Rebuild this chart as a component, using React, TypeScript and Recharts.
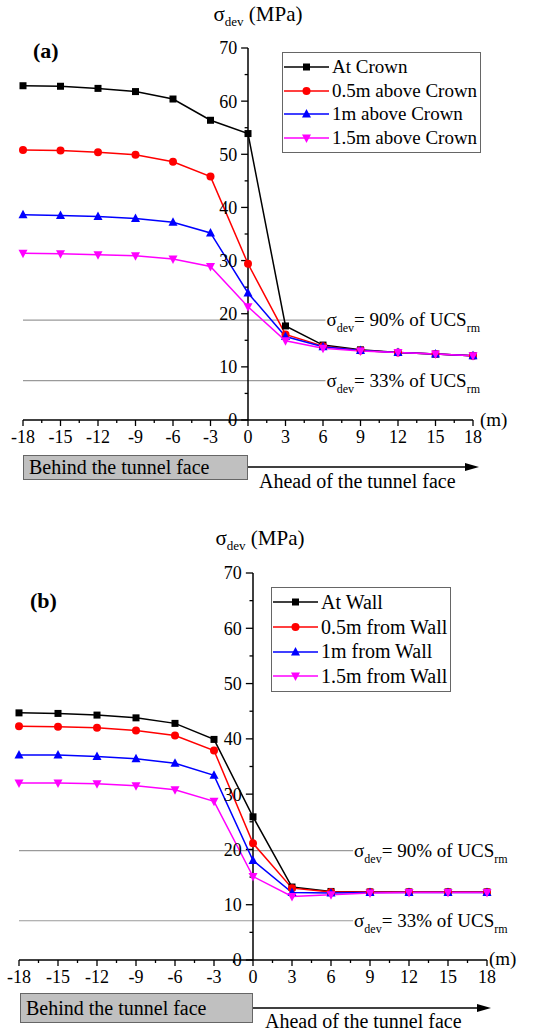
import { LineChart, Line, XAxis, YAxis, ReferenceLine, Legend } from "recharts";

const FONT = '"Liberation Serif", "Times New Roman", serif';

// distance from the tunnel face (m)
const positions = [-18, -15, -12, -9, -6, -3, 0, 3, 6, 9, 12, 15, 18];
const xTicks = [-18, -16.5, -15, -13.5, -12, -10.5, -9, -7.5, -6, -4.5, -3, -1.5, 0, 1.5, 3, 4.5, 6, 7.5, 9, 10.5, 12, 13.5, 15, 16.5, 18];
const yTicks = [0, 5, 10, 15, 20, 25, 30, 35, 40, 45, 50, 55, 60, 65, 70];

// (a) crown
const crownNames = ["At Crown", "0.5m above Crown", "1m above Crown", "1.5m above Crown"];
const atCrown = [62.9, 62.8, 62.4, 61.8, 60.4, 56.4, 53.9, 17.7, 14.1, 13.2, 12.7, 12.4, 12.1];
const crownHalf = [50.8, 50.7, 50.4, 49.9, 48.6, 45.8, 29.4, 16.1, 13.9, 13.1, 12.7, 12.4, 12.1];
const crownOne = [38.6, 38.5, 38.3, 37.9, 37.2, 35.2, 23.9, 15.7, 13.8, 13.1, 12.7, 12.4, 12.1];
const crownOneHalf = [31.4, 31.3, 31.1, 30.9, 30.3, 28.9, 21.3, 14.9, 13.5, 13.0, 12.7, 12.4, 12.1];
const crownLimits = [18.8, 7.4];

// (b) wall
const wallNames = ["At Wall", "0.5m from Wall", "1m from Wall", "1.5m from Wall"];
const atWall = [44.7, 44.6, 44.3, 43.8, 42.8, 39.9, 25.9, 13.2, 12.4, 12.3, 12.3, 12.3, 12.3];
const wallHalf = [42.3, 42.2, 42.0, 41.5, 40.6, 37.9, 21.1, 13.0, 12.3, 12.3, 12.3, 12.3, 12.3];
const wallOne = [37.1, 37.1, 36.8, 36.4, 35.6, 33.4, 18.0, 12.2, 12.1, 12.2, 12.2, 12.2, 12.2];
const wallOneHalf = [32.0, 32.0, 31.9, 31.5, 30.8, 28.7, 15.1, 11.5, 11.8, 12.1, 12.2, 12.2, 12.2];
const wallLimits = [19.8, 7.1];

const limitText = ["90%", "33%"];

const colors = ["#000000", "#ff0000", "#0000ff", "#ff00ff"];
const shapes = ["square", "circle", "up", "down"];

const Marker = ({ shape, x, y, color }: any) => {
  if (shape === "square") return <rect x={x - 3.5} y={y - 3.5} width={7} height={7} fill={color} />;
  if (shape === "circle") return <circle cx={x} cy={y} r={4} fill={color} />;
  if (shape === "up") return <polygon points={`${x},${y - 5} ${x - 4.5},${y + 3.5} ${x + 4.5},${y + 3.5}`} fill={color} />;
  return <polygon points={`${x},${y + 5} ${x - 4.5},${y - 3.5} ${x + 4.5},${y - 3.5}`} fill={color} />;
};

const XTick = ({ x, y, payload }: any) => {
  const major = Math.abs(payload.value % 3) < 1e-6;
  return (
    <g>
      <line x1={x} y1={y} x2={x} y2={y + (major ? 6 : 3)} stroke="#000" strokeWidth={1.3} />
      {major && (
        <text x={x} y={y + 23} textAnchor="middle" fontSize={18} fontFamily={FONT} fill="#000">
          {payload.value}
        </text>
      )}
    </g>
  );
};

const LimitLabel = ({ viewBox, pct }: any) => {
  if (!viewBox) return null;
  const x = viewBox.x + viewBox.width + 1;
  const y = viewBox.y + 6;
  return (
    <text x={x} y={y} fontSize={19} fontFamily={FONT} fill="#000">
      σ<tspan dy={6} fontSize={12}>dev</tspan>
      <tspan dy={-6}>= {pct} of UCS</tspan>
      <tspan dy={6} fontSize={12}>rm</tspan>
    </text>
  );
};

const LegendBox = ({ names, fontSize, row }: any) => (
  <div style={{ border: "1px solid #666", background: "#fff", padding: "2px 3px 2px 1px", fontFamily: FONT, fontSize, color: "#000" }}>
    {names.map((n: string, i: number) => (
      <div key={n} style={{ display: "flex", alignItems: "center", height: row, whiteSpace: "nowrap" }}>
        <svg width={45} height={14} style={{ flex: "none" }}>
          <line x1={0} y1={7} x2={45} y2={7} stroke={colors[i]} strokeWidth={1.5} />
          <Marker shape={shapes[i]} x={22.5} y={7} color={colors[i]} />
        </svg>
        <span style={{ marginLeft: 3 }}>{n}</span>
      </div>
    ))}
  </div>
);

const Panel = ({ top, height, margin, series, names, limits, limitEnd, tag, legend, deco }: any) => {
  const data = positions.map((x, i) => ({ x, s0: series[0][i], s1: series[1][i], s2: series[2][i], s3: series[3][i] }));
  return (
    <div style={{ position: "absolute", left: 0, top, width: 535, height }}>
      <LineChart width={535} height={height} data={data} margin={margin}>
        <XAxis
          dataKey="x"
          type="number"
          domain={[-18, 18]}
          ticks={xTicks}
          interval={0}
          tickSize={0}
          tickMargin={0}
          tickLine={false}
          axisLine={{ stroke: "#000", strokeWidth: 1.5 }}
          tick={(p: any) => <XTick {...p} />}
          height={30}
        />
        <YAxis hide domain={[0, 70]} type="number" />
        {limits.map((v: number, i: number) => (
          <ReferenceLine
            key={`lim${i}`}
            segment={[{ x: -18, y: v }, { x: limitEnd, y: v }]}
            stroke="#9a9a9a"
            strokeWidth={1.2}
            label={<LimitLabel pct={limitText[i]} />}
          />
        ))}
        <ReferenceLine x={0} stroke="#000" strokeWidth={1.5} />
        {yTicks.map((v) => (
          <ReferenceLine
            key={`yt${v}`}
            segment={[{ x: v % 10 === 0 ? -0.55 : -0.27, y: v }, { x: 0, y: v }]}
            stroke="#000"
            strokeWidth={1.3}
            label={v % 10 === 0 ? { value: v, position: "left", offset: 4, fill: "#000", fontSize: 18, fontFamily: FONT } : undefined}
          />
        ))}
        {[0, 1, 2, 3].map((k) => (
          <Line
            key={k}
            type="linear"
            dataKey={`s${k}`}
            name={names[k]}
            stroke={colors[k]}
            strokeWidth={1.5}
            dot={(p: any) => <Marker key={`d${k}-${p.index}`} shape={shapes[k]} x={p.cx} y={p.cy} color={colors[k]} />}
            activeDot={false}
            isAnimationActive={false}
          />
        ))}
        <Legend
          layout="vertical"
          align="center"
          verticalAlign="middle"
          wrapperStyle={{ left: legend.left, top: legend.top, width: "auto" }}
          content={() => <LegendBox names={names} fontSize={legend.fontSize} row={legend.row} />}
        />
      </LineChart>
      <div style={{ position: "absolute", left: deco.titleX - 70, width: 140, top: deco.titleY, textAlign: "center", fontFamily: FONT, fontSize: 21, whiteSpace: "nowrap" }}>
        σ<sub style={{ fontSize: 13 }}>dev</sub> (MPa)
      </div>
      <div style={{ position: "absolute", left: deco.tagX, top: deco.tagY, fontFamily: FONT, fontSize: 22, fontWeight: "bold" }}>{tag}</div>
      <div style={{ position: "absolute", left: deco.mX, top: deco.mY, fontFamily: FONT, fontSize: 19 }}>(m)</div>
      <div
        style={{
          position: "absolute",
          left: deco.boxX,
          top: deco.boxY,
          width: deco.boxW,
          height: deco.boxH,
          boxSizing: "border-box",
          background: "#c0c0c0",
          border: "1px solid #666",
          fontFamily: FONT,
          fontSize: 20,
          lineHeight: `${deco.boxH - 2}px`,
          paddingLeft: 5,
          whiteSpace: "nowrap",
        }}
      >
        Behind the tunnel face
      </div>
      <svg style={{ position: "absolute", left: 0, top: 0 }} width={535} height={height} pointerEvents="none">
        <line x1={deco.boxX + deco.boxW} y1={deco.arrowY} x2={deco.arrowEnd - 8} y2={deco.arrowY} stroke="#000" strokeWidth={1.3} />
        <polygon points={`${deco.arrowEnd},${deco.arrowY} ${deco.arrowEnd - 14},${deco.arrowY - 4} ${deco.arrowEnd - 14},${deco.arrowY + 4}`} fill="#000" />
      </svg>
      <div style={{ position: "absolute", left: deco.aheadX, top: deco.aheadY, fontFamily: FONT, fontSize: 20, whiteSpace: "nowrap" }}>
        Ahead of the tunnel face
      </div>
    </div>
  );
};

export default function App() {
  return (
    <div style={{ position: "absolute", left: 0, top: 0, width: 535, height: 1031, background: "#fff" }}>
      <Panel
        top={0}
        height={500}
        margin={{ top: 48, right: 62, left: 23, bottom: 50 }}
        series={[atCrown, crownHalf, crownOne, crownOneHalf]}
        names={crownNames}
        limits={crownLimits}
        limitEnd={6.2}
        tag="(a)"
        legend={{ left: 282, top: 52, fontSize: 19, row: 23.7 }}
        deco={{ titleX: 258, titleY: 2, tagX: 33, tagY: 38, mX: 480, mY: 409, boxX: 23, boxY: 455, boxW: 225, boxH: 25, arrowY: 467, arrowEnd: 479, aheadX: 259, aheadY: 470 }}
      />
      <Panel
        top={520}
        height={511}
        margin={{ top: 53, right: 48, left: 19, bottom: 41 }}
        series={[atWall, wallHalf, wallOne, wallOneHalf]}
        names={wallNames}
        limits={wallLimits}
        limitEnd={7.7}
        tag="(b)"
        legend={{ left: 271, top: 67, fontSize: 20, row: 24.7 }}
        deco={{ titleX: 260, titleY: 6, tagX: 30, tagY: 68, mX: 489, mY: 428, boxX: 20, boxY: 473, boxW: 233, boxH: 30, arrowY: 488, arrowEnd: 491, aheadX: 265, aheadY: 490 }}
      />
    </div>
  );
}
